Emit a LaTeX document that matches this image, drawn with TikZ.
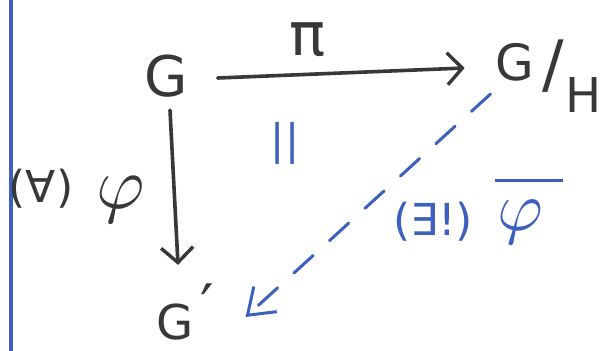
\documentclass[tikz,border=0pt]{standalone}
\usepackage{fontspec}
\setmainfont{DejaVu Sans}
\usetikzlibrary{arrows.meta,calc}
\definecolor{ink}{HTML}{383838}
\definecolor{pen}{HTML}{3C60BE}
\begin{document}
\begin{tikzpicture}[x=1pt,y=-1pt,
  lbl/.style={inner sep=0pt,outer sep=0pt,text=ink},
  bl/.style={inner sep=0pt,outer sep=0pt,text=pen},
  arr/.style={draw=ink,line width=3.6pt,line cap=round,
    -{Straight Barb[length=15pt,width=32pt,line width=3.4pt]}},
  darr/.style={draw=pen,line width=3pt,line cap=round,dash pattern=on 26pt off 22pt,
    -{Straight Barb[length=24pt,width=34pt,line width=3pt]}}]
\useasboundingbox (0,0) rectangle (611,351);
\fill[white] (0,0) rectangle (611,351);
\draw[pen,line width=4pt] (11,0) -- (11,351);
% objects
\node[lbl,font=\fontsize{56}{60}\selectfont] (G) at (166,76) {G};
\node[lbl,font=\fontsize{50}{54}\selectfont] (GH) at (515,62) {G};
\node[lbl,font=\fontsize{64}{68}\selectfont] (sl) at (553,66) {/};
\node[lbl,font=\fontsize{48}{52}\selectfont] (H) at (584,95) {H};
\node[lbl,font=\fontsize{48}{52}\selectfont] (Gp) at (175,322) {G\rlap{\hspace{7pt}\smash{\raisebox{12pt}{\fontsize{60}{60}\selectfont ′}}}};
% labels
\node[lbl,font=\fontsize{60}{64}\selectfont] (pi) at (308,40) {π};
\node[lbl] (phi) at (121,200) {\scalebox{7.4}{$\varphi$}};
\node[lbl,font=\fontsize{44}{48}\selectfont] (all) at (41,189) {(∀)};
\node[bl,font=\fontsize{42}{46}\selectfont] (eq) at (285,143) {||};
\node[bl,font=\fontsize{44}{48}\selectfont] (ex) at (433,222) {(∃!)};
\node[bl] (phib) at (520,222) {\scalebox{7}{$\varphi$}};
\draw[pen,line width=3pt] (495,180) -- (563,180);
% connectors
\draw[arr] ([shift={(30,2)}]G.east) -- ([shift={(-31,6)}]GH.west);
\draw[arr] ([shift={(4,13)}]G.south) -- ([shift={(3,-39)}]Gp.north);
\draw[darr] ([shift={(-5,13)}]GH.south west) -- ([shift={(52,-5)}]Gp.east);
\end{tikzpicture}
\end{document}
